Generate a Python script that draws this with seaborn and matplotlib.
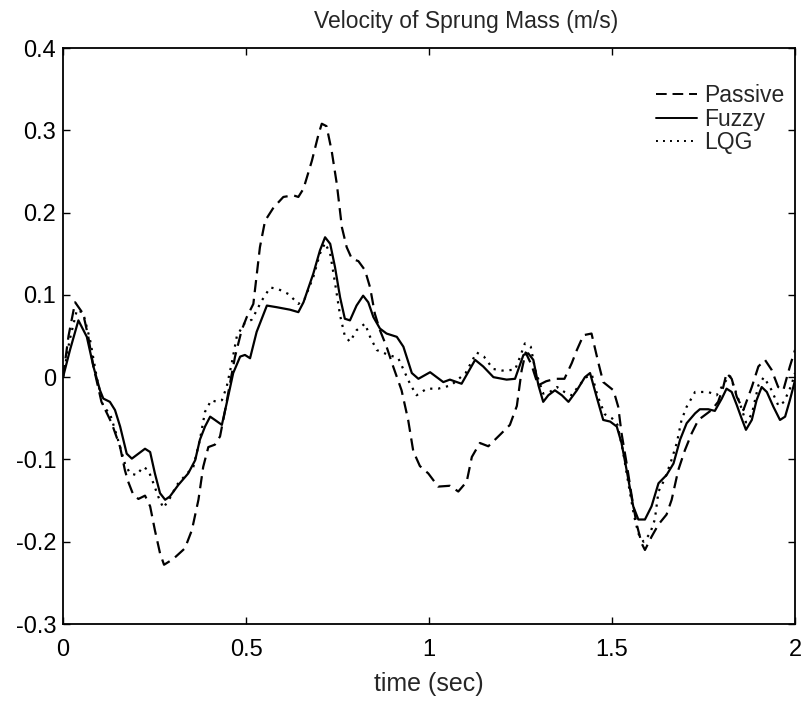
import numpy as np
import pandas as pd
import matplotlib
matplotlib.use("Agg")
import matplotlib.pyplot as plt
import seaborn as sns

title = "Velocity of Sprung Mass (m/s)"
xlabel = "time (sec)"
series_names = ["Passive", "Fuzzy", "LQG"]
x_ticks = [0, 0.5, 1, 1.5, 2]
x_tick_labels = ["0", "0.5", "1", "1.5", "2"]
y_ticks = [-0.3, -0.2, -0.1, 0, 0.1, 0.2, 0.3, 0.4]
y_tick_labels = ["-0.3", "-0.2", "-0.1", "0", "0.1", "0.2", "0.3", "0.4"]

t_passive = [0.000, 0.015, 0.033, 0.055, 0.069, 0.083, 0.105, 0.133, 0.156, 0.169,
             0.178, 0.192, 0.206, 0.224, 0.238, 0.251, 0.265, 0.276, 0.301, 0.333,
             0.352, 0.370, 0.383, 0.397, 0.415, 0.429, 0.443, 0.456, 0.470, 0.488,
             0.502, 0.520, 0.538, 0.552, 0.575, 0.602, 0.629, 0.643, 0.657, 0.680,
             0.698, 0.707, 0.720, 0.734, 0.748, 0.762, 0.775, 0.789, 0.807, 0.825,
             0.839, 0.852, 0.866, 0.884, 0.902, 0.925, 0.943, 0.957, 0.975, 0.998,
             1.025, 1.057, 1.080, 1.103, 1.117, 1.139, 1.162, 1.194, 1.221, 1.240,
             1.253, 1.264, 1.280, 1.298, 1.320, 1.345, 1.370, 1.390, 1.404, 1.422,
             1.444, 1.463, 1.476, 1.504, 1.517, 1.526, 1.540, 1.554, 1.567, 1.581,
             1.590, 1.608, 1.627, 1.649, 1.663, 1.681, 1.699, 1.718, 1.736, 1.754,
             1.772, 1.790, 1.804, 1.813, 1.827, 1.841, 1.859, 1.882, 1.900, 1.918,
             1.936, 1.954, 1.968, 1.986, 2.000]
v_passive = [0.000, 0.050, 0.091, 0.077, 0.049, 0.013, -0.030, -0.056, -0.085, -0.113,
             -0.127, -0.143, -0.148, -0.144, -0.157, -0.186, -0.214, -0.228, -0.221, -0.208,
             -0.186, -0.149, -0.109, -0.085, -0.082, -0.072, -0.040, -0.008, 0.025, 0.057,
             0.073, 0.089, 0.158, 0.190, 0.206, 0.219, 0.221, 0.219, 0.229, 0.263,
             0.295, 0.308, 0.305, 0.275, 0.235, 0.182, 0.158, 0.144, 0.141, 0.130,
             0.109, 0.077, 0.057, 0.037, 0.013, -0.016, -0.052, -0.090, -0.108, -0.117,
             -0.133, -0.132, -0.139, -0.127, -0.097, -0.080, -0.084, -0.070, -0.058, -0.035,
             0.008, 0.030, 0.015, -0.010, -0.005, -0.002, -0.002, 0.017, 0.033, 0.051,
             0.053, 0.017, -0.006, -0.016, -0.036, -0.068, -0.105, -0.145, -0.178, -0.202,
             -0.210, -0.194, -0.179, -0.167, -0.149, -0.113, -0.089, -0.068, -0.052, -0.046,
             -0.040, -0.030, -0.012, 0.005, -0.002, -0.024, -0.040, -0.012, 0.013, 0.021,
             0.009, -0.012, -0.016, 0.013, 0.033]

t_fuzzy = [0.000, 0.019, 0.042, 0.065, 0.083, 0.101, 0.110, 0.128, 0.142, 0.156,
           0.174, 0.188, 0.206, 0.224, 0.238, 0.251, 0.265, 0.279, 0.292, 0.315,
           0.342, 0.361, 0.374, 0.388, 0.402, 0.415, 0.434, 0.447, 0.465, 0.484,
           0.497, 0.511, 0.529, 0.557, 0.584, 0.620, 0.643, 0.657, 0.684, 0.702,
           0.716, 0.730, 0.743, 0.757, 0.770, 0.784, 0.802, 0.820, 0.834, 0.848,
           0.866, 0.884, 0.912, 0.930, 0.953, 0.971, 1.003, 1.039, 1.057, 1.089,
           1.126, 1.148, 1.176, 1.212, 1.235, 1.258, 1.271, 1.285, 1.299, 1.312,
           1.326, 1.344, 1.363, 1.381, 1.404, 1.426, 1.440, 1.458, 1.476, 1.495,
           1.513, 1.526, 1.540, 1.558, 1.572, 1.590, 1.608, 1.627, 1.649, 1.668,
           1.686, 1.704, 1.727, 1.740, 1.763, 1.781, 1.800, 1.813, 1.827, 1.841,
           1.854, 1.866, 1.882, 1.895, 1.909, 1.923, 1.941, 1.959, 1.973, 1.986,
           2.000]
v_fuzzy = [0.000, 0.033, 0.069, 0.049, 0.013, -0.016, -0.026, -0.030, -0.040, -0.060,
           -0.093, -0.099, -0.093, -0.087, -0.091, -0.117, -0.141, -0.149, -0.145, -0.131,
           -0.117, -0.101, -0.076, -0.060, -0.048, -0.052, -0.058, -0.032, 0.005, 0.025,
           0.027, 0.023, 0.055, 0.087, 0.085, 0.082, 0.079, 0.091, 0.126, 0.154,
           0.170, 0.162, 0.134, 0.097, 0.071, 0.069, 0.087, 0.099, 0.091, 0.073,
           0.059, 0.053, 0.049, 0.037, 0.005, -0.002, 0.006, -0.006, -0.003, -0.008,
           0.021, 0.013, 0.000, -0.003, -0.002, 0.027, 0.029, 0.021, -0.010, -0.030,
           -0.022, -0.016, -0.022, -0.030, -0.016, 0.000, 0.005, -0.024, -0.052, -0.054,
           -0.060, -0.080, -0.113, -0.157, -0.173, -0.173, -0.157, -0.129, -0.119, -0.105,
           -0.076, -0.056, -0.044, -0.039, -0.039, -0.041, -0.026, -0.014, -0.018, -0.034,
           -0.050, -0.064, -0.052, -0.028, -0.012, -0.018, -0.036, -0.052, -0.048, -0.028,
           -0.004]

t_lqg = [0.000, 0.018, 0.038, 0.055, 0.074, 0.092, 0.110, 0.128, 0.142, 0.156,
         0.169, 0.183, 0.201, 0.219, 0.233, 0.247, 0.260, 0.274, 0.292, 0.311,
         0.333, 0.356, 0.374, 0.388, 0.405, 0.420, 0.434, 0.447, 0.461, 0.475,
         0.495, 0.516, 0.543, 0.566, 0.588, 0.616, 0.643, 0.660, 0.684, 0.702,
         0.716, 0.730, 0.743, 0.757, 0.770, 0.784, 0.802, 0.825, 0.839, 0.857,
         0.884, 0.916, 0.948, 0.966, 0.994, 1.025, 1.060, 1.100, 1.130, 1.150,
         1.175, 1.200, 1.235, 1.249, 1.262, 1.278, 1.290, 1.312, 1.330, 1.350,
         1.370, 1.390, 1.410, 1.430, 1.445, 1.460, 1.480, 1.500, 1.515, 1.530,
         1.545, 1.560, 1.572, 1.586, 1.604, 1.617, 1.627, 1.645, 1.663, 1.677,
         1.690, 1.704, 1.727, 1.763, 1.786, 1.805, 1.822, 1.840, 1.854, 1.866,
         1.882, 1.900, 1.915, 1.935, 1.955, 1.970, 1.990, 2.000]
v_lqg = [0.000, 0.045, 0.082, 0.078, 0.045, 0.000, -0.036, -0.044, -0.064, -0.085,
         -0.105, -0.117, -0.119, -0.109, -0.113, -0.129, -0.145, -0.159, -0.147, -0.131,
         -0.120, -0.109, -0.076, -0.042, -0.028, -0.030, -0.028, -0.012, 0.017, 0.050,
         0.065, 0.070, 0.093, 0.109, 0.107, 0.101, 0.089, 0.095, 0.122, 0.150,
         0.163, 0.150, 0.115, 0.075, 0.050, 0.043, 0.057, 0.065, 0.049, 0.033,
         0.028, 0.023, -0.008, -0.022, -0.014, -0.014, -0.010, 0.005, 0.030, 0.025,
         0.010, 0.008, 0.009, 0.025, 0.041, 0.037, 0.009, -0.020, -0.018, -0.012,
         -0.018, -0.022, -0.010, 0.000, 0.003, -0.022, -0.045, -0.050, -0.058, -0.090,
         -0.130, -0.168, -0.190, -0.200, -0.190, -0.173, -0.139, -0.123, -0.100, -0.080,
         -0.052, -0.036, -0.018, -0.018, -0.022, -0.008, 0.002, -0.020, -0.038, -0.055,
         -0.045, -0.010, 0.000, -0.015, -0.035, -0.030, -0.010, 0.005]

sns.set_style("ticks")
plt.rcParams["font.family"] = ["Liberation Sans", "DejaVu Sans"]

fig = plt.figure(figsize=(8.04, 7.02), dpi=100)
ax = fig.add_axes([0.0784, 0.1111, 0.9104, 0.8205])

lw = 1.6
sns.lineplot(x=t_passive, y=v_passive, ax=ax, color="black", lw=lw,
             estimator=None, sort=False, label=series_names[0])
sns.lineplot(x=t_fuzzy, y=v_fuzzy, ax=ax, color="black", lw=lw,
             estimator=None, sort=False, label=series_names[1])
sns.lineplot(x=t_lqg, y=v_lqg, ax=ax, color="black", lw=lw,
             estimator=None, sort=False, label=series_names[2])
lines = ax.get_lines()
lines[0].set_dashes((5.5, 3.0))
lines[2].set_dashes((1.0, 2.6))

ax.set_xlim(0, 2)
ax.set_ylim(-0.3, 0.4)
ax.set_xticks(x_ticks)
ax.set_xticklabels(x_tick_labels)
ax.set_yticks(y_ticks)
ax.set_yticklabels(y_tick_labels)
ax.tick_params(direction="in", length=5, width=1.0, top=True, right=True,
               labelsize=17, colors="black")
ax.tick_params(axis="x", pad=11)
ax.tick_params(axis="y", pad=5)
for s in ax.spines.values():
    s.set_visible(True)
    s.set_linewidth(1.3)
    s.set_color("black")

ax.set_xlabel(xlabel, fontsize=18, labelpad=8)
ax.set_ylabel("")
fig.text(0.58, 0.970, title, fontsize=16.5, ha="center", va="center")

leg = ax.legend(loc="upper right", bbox_to_anchor=(0.985, 0.937), frameon=False,
                fontsize=16.5, handlelength=1.8, handletextpad=0.3,
                labelspacing=0.02, borderpad=0, borderaxespad=0)
for h in leg.get_lines():
    h.set_linewidth(1.4)

fig.savefig("out.png", dpi=100)
